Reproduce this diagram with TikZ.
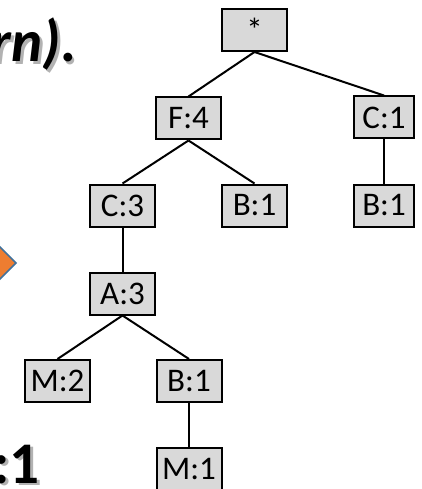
\documentclass[tikz,border=0pt]{standalone}
\usepackage{fontspec}
\setmainfont{Carlito}
\definecolor{boxgray}{HTML}{D9D9D9}
\definecolor{arrorange}{HTML}{ED7D31}
\definecolor{arrblue}{HTML}{41719C}
\begin{document}
\begin{tikzpicture}[x=1pt,y=-1pt,
  box/.style={draw=black,line width=2pt,fill=boxgray,minimum width=65pt,minimum height=42pt,inner sep=0pt,font=\fontsize{33}{33}\selectfont},
  nbox/.style={box,minimum width=60pt},
  edge/.style={line width=2pt,draw=black},
  big/.style={inner sep=0pt,font=\fontsize{59}{59}\selectfont\bfseries},
  bigit/.style={inner sep=0pt,font=\fontsize{59}{59}\selectfont\bfseries\itshape},
  shadow/.style={text=black!30}]
\useasboundingbox (0,0) rectangle (422,489);
\clip (0,0) rectangle (422,489);
% orange arrow tip
\draw[fill=arrorange,draw=arrblue,line width=1.5pt] (-12,235) -- (16,263) -- (-12,291) -- cycle;
% partial texts (with drop shadow)
\node[bigit,shadow,anchor=base east] (t1s) at (79.5,64.5) {rn).};
\node[bigit,anchor=base east] (t1) at (77,62) {rn).};
\node[big,shadow,anchor=base east] (t2s) at (42.5,485.5) {:1};
\node[big,anchor=base east] (t2) at (40,483) {:1};
% tree
\node[box] (star) at (254.5,30) {*};
\node[box] (F4) at (188.5,118.5) {F:4};
\node[nbox] (C1) at (384,117.5) {C:1};
\node[box] (C3) at (122.5,205.5) {C:3};
\node[box] (B1m) at (254.5,205.5) {B:1};
\node[nbox] (B1r) at (384,205.5) {B:1};
\node[box] (A3) at (122.5,293.5) {A:3};
\node[box] (M2) at (57.5,381) {M:2};
\node[box] (B1l) at (189,381) {B:1};
\node[box] (M1) at (189,469) {M:1};
\draw[edge] (star.south) -- (F4.north);
\draw[edge] (star.south) -- (C1.north);
\draw[edge] (F4.south) -- (C3.north);
\draw[edge] (F4.south) -- (B1m.north);
\draw[edge] (C1.south) -- (B1r.north);
\draw[edge] (C3.south) -- (A3.north);
\draw[edge] (A3.south) -- (M2.north);
\draw[edge] (A3.south) -- (B1l.north);
\draw[edge] (B1l.south) -- (M1.north);
\end{tikzpicture}
\end{document}
